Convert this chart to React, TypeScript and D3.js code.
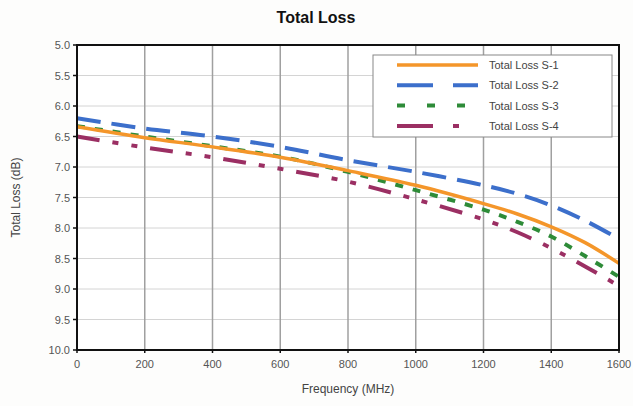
import React from "react";
import * as d3 from "d3";

const freq = [0, 200, 400, 600, 800, 1000, 1200, 1300, 1400, 1500, 1600];
const s1 = [6.34, 6.52, 6.67, 6.84, 7.06, 7.3, 7.6, 7.77, 7.98, 8.24, 8.58];
const s2 = [6.2, 6.37, 6.5, 6.67, 6.89, 7.08, 7.3, 7.44, 7.63, 7.88, 8.18];
const s3 = [6.33, 6.5, 6.66, 6.83, 7.08, 7.38, 7.7, 7.9, 8.14, 8.46, 8.8];
const s4 = [6.5, 6.68, 6.84, 7.03, 7.24, 7.53, 7.86, 8.07, 8.33, 8.63, 8.95];
const seriesNames = ["Total Loss S-1", "Total Loss S-2", "Total Loss S-3", "Total Loss S-4"];
const xTicks = [0, 200, 400, 600, 800, 1000, 1200, 1400, 1600];
const yTicks = [5.0, 5.5, 6.0, 6.5, 7.0, 7.5, 8.0, 8.5, 9.0, 9.5, 10.0];

const colors = ["#F4962A", "#3C6FCB", "#2E8B38", "#9B2F63"];
const dashes = ["none", "24 11", "8 10", "23 13 6 13 6 13"];
const legendDashes = ["none", "36 20", "8 22", "36 20 6 20"];

export default function App() {
  const W = 633, H = 406;
  const L = 77, R = 619, T = 45, B = 350;
  const x = d3.scaleLinear().domain([0, 1600]).range([L, R]);
  const y = d3.scaleLinear().domain([5, 10]).range([T, B]);
  const all = [s1, s2, s3, s4];
  const line = d3
    .line<number>()
    .x((_, i) => x(freq[i]))
    .y((d) => y(d))
    .curve(d3.curveCatmullRom.alpha(0.5));
  const font = "Liberation Sans, Arial, sans-serif";
  const drawOrder = [3, 2, 1, 0];
  return (
    <svg
      width={W}
      height={H}
      style={{ position: "absolute", left: 0, top: 0, background: "#fdfdfc" }}
      fontFamily={font}
    >
      <rect x={0} y={0} width={W} height={H} fill="#fdfdfc" />
      <rect x={L} y={T} width={R - L} height={B - T} fill="#ffffff" />
      {yTicks.map((t) => (
        <line key={"hg" + t} x1={L} x2={R} y1={y(t)} y2={y(t)} stroke="#d4d4d4" strokeWidth={1} />
      ))}
      {xTicks.map((t) => (
        <line key={"vg" + t} x1={x(t)} x2={x(t)} y1={T} y2={B} stroke="#a0a0a0" strokeWidth={1.5} />
      ))}
      {drawOrder.map((k) => (
        <path
          key={"s" + k}
          d={line(all[k]) || ""}
          fill="none"
          stroke={colors[k]}
          strokeWidth={k === 0 ? 3.5 : 4}
          strokeDasharray={dashes[k]}
        />
      ))}
      <rect x={L} y={T} width={R - L} height={B - T} fill="none" stroke="#111" strokeWidth={2} />
      {yTicks.map((t) => (
        <g key={"yt" + t}>
          <line x1={L - 4} x2={L} y1={y(t)} y2={y(t)} stroke="#111" strokeWidth={1.5} />
          <text x={L - 7} y={y(t) + 4} textAnchor="end" fontSize={11} fill="#555">
            {d3.format(".1f")(t)}
          </text>
        </g>
      ))}
      {xTicks.map((t) => (
        <g key={"xt" + t}>
          <line x1={x(t)} x2={x(t)} y1={B} y2={B + 3} stroke="#111" strokeWidth={1.5} />
          <text x={x(t)} y={B + 18} textAnchor="middle" fontSize={11} fill="#555">
            {t}
          </text>
        </g>
      ))}
      <text x={316} y={23} textAnchor="middle" fontSize={16} fontWeight="bold" fill="#111">
        Total Loss
      </text>
      <text x={348} y={393} textAnchor="middle" fontSize={12} fill="#444">
        Frequency (MHz)
      </text>
      <text
        transform={`translate(20,${(T + B) / 2}) rotate(-90)`}
        textAnchor="middle"
        fontSize={12}
        fill="#444"
      >
        Total Loss (dB)
      </text>
      <g>
        <rect x={373} y={55} width={239} height={82} fill="#fff" stroke="#888" strokeWidth={1} />
        {seriesNames.map((n, i) => (
          <g key={n}>
            <line
              x1={397}
              x2={478}
              y1={65 + i * 20.3}
              y2={65 + i * 20.3}
              stroke={colors[i]}
              strokeWidth={i === 0 ? 3.5 : 4}
              strokeDasharray={legendDashes[i]}
            />
            <text x={489} y={69 + i * 20.3} fontSize={11} fill="#444">
              {n}
            </text>
          </g>
        ))}
      </g>
    </svg>
  );
}
